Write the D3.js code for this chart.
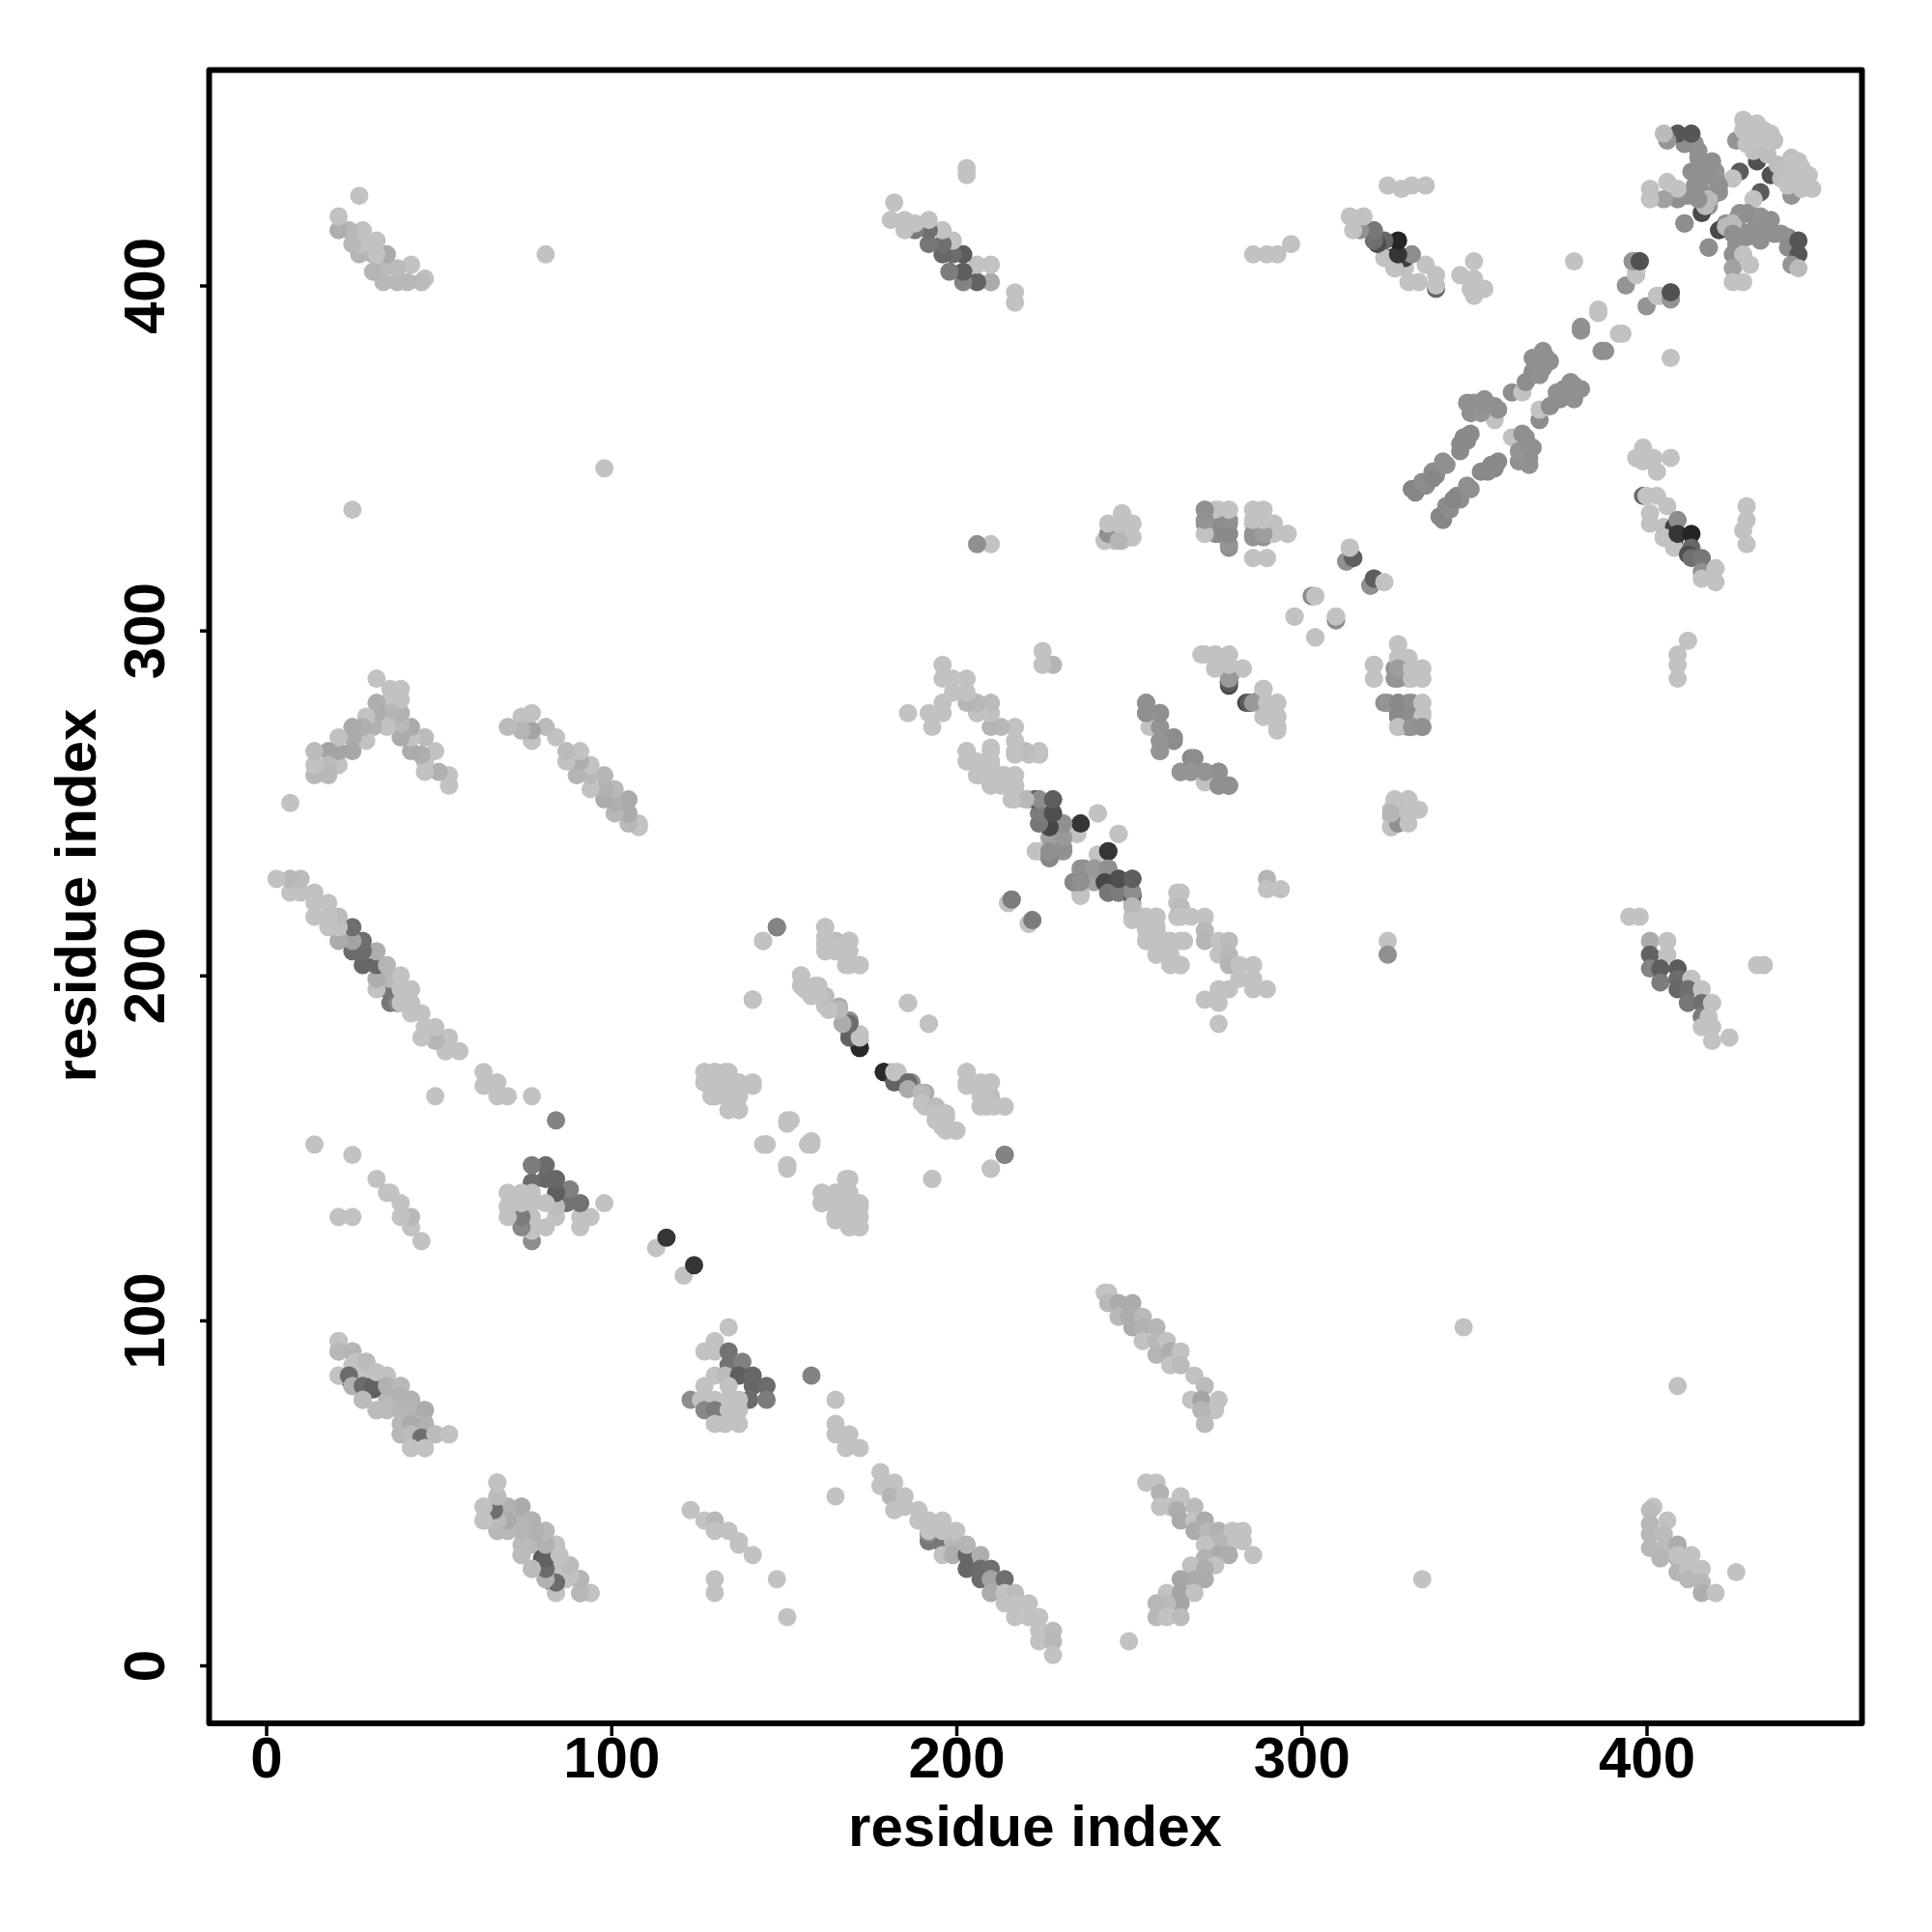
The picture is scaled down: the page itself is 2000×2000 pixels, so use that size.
<!DOCTYPE html>
<html><head><meta charset="utf-8"><style>html,body{margin:0;background:#fff}</style>
<script src="https://cdnjs.cloudflare.com/ajax/libs/d3/7.8.5/d3.min.js"></script></head><body>
<svg id="c" width="2000" height="2000"></svg>
<script>
// contacts: [residue i, residue j, score (omitted = 0)]; the map is symmetric
const tickValues=[0,100,200,300,400];
const axisTitle="residue index";
const blockEarly=[[67,53],[67,49],[63,46],[63,42],[66,46,52],[70,46,8],[74,46,14],[70,42,6],[77,42,12],[67,39],[74,39,6],[77,39,8],[81,39],[74,32,4],[77,35,6],[81,35,8],[84,35],[80,31,62],[80,29,55],[77,28,4],[84,32],[88,29,4],[81,25,8],[83,24,48],[84,28],[84,21],[87,25],[91,25,8],[91,21,6],[94,21],
[21,94],[21,91,6],[25,91,8],[26,88],[29,88,4],[21,84],[24,84,52],[25,81,10],[28,81,52],[31,81,58],[32,85],[35,84],[28,77,4],[32,74,4],[35,81,10],[39,81,6],[39,78,10],[42,77,10],[35,74,4],[39,74,8],[42,74,8],[46,74,14],[46,70,10],[39,70,6],[39,67,6],[42,70,14],[42,67,4],[45,66,50],[49,67,4],[53,67],[42,63],[46,63]];
const blockC=[[121,113],[124,116,85],[134,98],[130,94],[127,91],[130,91],[134,91,48],[134,87,48],[138,88,40],[130,84],[133,84,4],[137,84,60],[141,84,55],[141,81,55],[145,81,52],[140,77,52],[145,77,42],[127,81],[134,81],[123,77,32],[126,77],[130,77],[134,77],[137,77],[127,74,35],[130,74,42],[134,74],[137,74],[130,70],[133,70],[137,70],[158,84,38],[165,77],[165,70],[165,67],[169,67],[168,63],[172,63],[165,49]];
const blockLow=[[123,45],[127,42],[130,42,6],[130,39],[134,39],[137,36],[137,35],[141,32],[130,25],[130,21],[148,25],[151,14],[250,7],[335,25],[347,98],[409,81]];
const chainA=[[178,56],[178,52],[182,53],[181,49,8],[182,45],[185,49],[185,46],[189,45],[189,42],[192,36,45],[192,38,38],[192,42],[196,42],[196,35,45],[196,32],[199,36,6],[199,32,12],[203,32,55],[192,39],[196,39],[200,39],[203,35,8],[207,32,12],[203,28,55],[207,28,52],[210,28,50],[207,25,52],[210,25,18],[214,25,50],[210,21,14],[214,21],[217,21,4],[214,18],[217,18],[221,18],[217,14],[221,14],[224,14],[224,10],[228,10,4],[224,7],[228,7,6],[228,3]];
const chainD=[[243,108],[244,108],[244,105,6],[247,105,14],[251,105,14],[247,101,6],[250,101,12],[251,98,14],[254,101,6],[254,98,10],[254,94],[258,98,8],[258,94,6],[258,90,8],[261,94],[262,91,12],[262,87],[265,91],[265,87,4],[269,84],[272,81,4],[268,77],[271,77,18],[276,77],[275,74],[271,74,8],[272,70,4]];
const chevron=[[255,53],[258,53],[259,50,10],[259,46],[262,46],[265,49],[264,45,12],[265,42,14],[269,46,4],[269,42],[269,39,14],[272,42,14],[273,39,6],[276,39,10],[280,39],[283,39],[283,36],[280,36],[276,36,8],[272,35],[276,32,14],[279,32,12],[286,32],[272,31,10],[275,29],[268,29],[272,28,12],[269,25,14],[272,25,14],[265,25,16],[261,21],[265,21,18],[269,21],[265,18,18],[261,18,4],[258,18,6],[258,14,6],[261,14],[265,14,4]];
const block270=[[248,334],[251,331],[251,327],[248,330,4],[246,326],[243,326],[246,329,4],[248,326],[272,335,32],[272,331,32],[272,328],[276,331,32],[279,331,28],[276,328,32],[279,328,32],[279,324,30],[276,335],[279,335],[286,335],[289,335],[286,331],[289,331],[292,331],[286,327,28],[289,327,28],[292,328],[296,328],[286,321],[290,321],
[314,324],[313,320,30],[315,321,58],[320,313,30],[321,315,60],[324,314],[303,310,30],[304,310],[298,304],[310,303,32],[310,304],[304,298]];
const block280=[[272,293],[275,293],[279,293],[275,289],[279,289],[279,284,72],[279,285,35],[280,288,28],[283,289],[289,283],[285,279,62],[286,279,25],[290,279],[293,279],[293,275],[289,275],[293,271],
[328,296],[321,290],[321,286],[328,292],[331,292],[328,286,28],[328,289,22],[332,289],[335,289],[332,286],[335,286],[325,279,28],[328,279,34],[328,275,34],[332,279,30],[332,275,32],[335,279],[335,275],[328,272],[332,272,28],[335,272,30],
[327,251],[331,251],[333,248],[326,243],[328,244,30],[331,244],[326,247,8],[331,247]];
const chainB=[[255,279,34],[255,276,30],[259,276,30],[257,272],[259,272,30],[259,268,30],[259,265,30],[263,268,34],[265,259,28],[269,263,32],[268,259,28],[272,256],[272,259,28],[276,259,30],[276,255,30],[279,255,30]];
const blockMid=[[203,265],[210,266],[217,264],[221,264],[224,264],[206,261],[210,261],[206,258],[210,258,4],[210,255],[214,258],[217,258],[214,255],[217,254],[217,251],[221,251,10],
[236,230],[223,251,65],[224,251,28],[228,251,58],[224,247,32],[228,247,65],[224,244,35],[227,244,72],[231,244,32],[235,241],[236,244,85],[231,240,30],[227,240,20],[241,247],[247,241],[223,236],[227,234,40],[227,235,38],[231,236,28],[241,235],[244,236,85],[237,231,30],[240,231,25],[244,231,30],[236,224],[234,227,35],[236,227,30],[243,227,75],[244,224,45],[247,224,42],[251,223,70],[251,224,32],[247,228,70],[251,228,60],[251,220,6],[251,216],[255,217],[258,217],[255,213],[258,213],[255,210],[258,210],[262,210],[265,210],[258,206],[262,206],[262,203],[265,203],
[265,224],[265,220,4],[265,217],[268,217],[272,217],[272,213,6],[272,210,8],[276,210],[279,210,4],[276,206],[279,206,6],[279,203,8],[282,203],[286,203],[282,199],[286,199],[286,196],[290,196],[279,196],[276,196],[272,193],[276,192],[276,186],[290,228,8],[290,225],[294,225],[325,210],[325,206,30],[215,221],[216,222,45],[221,215],[222,216,42],[214,148,38],[210,144],[193,141]];
const block160=[[203,172],[203,168],[207,169],[210,169],[207,165],[210,165,4],[207,162],[211,162],[214,162],
[169,141],[161,137],[165,137],[169,137],[161,134],[165,133],[169,133],[172,133],[165,130],[169,130],[172,130],[169,127],[172,127],[165,129],
[127,172],[130,172],[134,172],[127,169],[130,169],[134,169],[137,168],[141,168],[130,165],[134,165],[137,165],[134,161],[137,161],
[144,151],[145,151],[151,158],[151,145],[157,151],[158,152],[144,210],[148,214,38],[141,193],
[162,214],[162,209],[165,208],[169,210],[169,203],[172,203],[155,200],[155,197],[159,197],[158,194],[162,194],[162,191],[166,191,14],[169,187,30],[169,186,35],[169,184,55],[172,179,95],[172,181],[172,183],[179,172,92],[182,169,58],[182,172],[186,169,52],[186,167,14],[190,166,6],[190,163],[194,162,4],[194,160],[197,160],[196,156],[200,155],[186,192],[192,186]];
const block400a=[[395,217],[398,217],[401,210,14],[406,210],[401,206,58],[401,202,38],[406,206],[404,202,60],[404,198,42],[409,202,62],[409,199,52],[409,196,55],[413,199],[412,196,50],[412,192,45],[416,196],[416,192,50],[416,188,42],[419,192],[418,188],[416,185],[419,185],[419,181],[424,182],[432,203],[434,203],
[402,46],[401,45,4],[401,41,6],[401,38,6],[401,34,6],[406,42],[405,38,4],[405,34,4],[404,31,8],[409,35,14],[409,31,10],[409,27,8],[409,32],[413,32],[412,28],[412,25,6],[416,28],[416,24,6],[416,21,12],[420,21],[426,27]];
const block400b=[[399,353],[397,350],[399,349],[402,350],[407,350],[403,346],[399,339,55],[400,339],[403,339],[401,334],[401,331],[406,336],[405,330],[405,327,32],[408,330,78],[409,332,32],[408,326,92],[405,327],[408,324],[409,328,85],[413,328,95],[413,324,55],[412,322,70],[413,321,50],[416,321,45],[416,317,30],[420,318],[416,315],[420,314],[429,336],[429,332],[428,329],[429,325],[412,297],[409,293],[409,290],[409,286],[379,407]];
const blockDiag=[[340,333,36],[341,332,36],[342,336,62],[342,336,32],[343,335,32],[345,339,32],[346,338,32],[348,342,30],[349,341,30],[355,348,34],[356,348,34],[356,347,34],[357,349,34],[354,346,34],[361,356],[364,357,30],[365,356,30],[366,350,30],[363,349,30],[363,352,28],[367,353,30],[366,348,30],[369,361,32],[369,364],[372,365,32],[374,367,32],[376,370,30],[379,371,30],[379,367,30],[375,367,32],[378,368,30],[381,370,30],[378,372,30],[374,369,30],[366,353,30],[344,338,36],[352,346,34],
[381,387,0],[388,381,30],[387,381,30],[392,386],[393,386],[396,407,32],[398,407,66],[400,394,28],[403,397],[404,397],[407,396,28],[407,398,68]];
const blockTop=[[433,427,62],[431,425],[427,421,30],[426,419,30],[427,420,30],[431,420,28],[433,420,28],[433,417,30],[427,416,30],[431,416,30],[437,415,30],[434,418,30],[436,419,30],[423,418,30],[421,416,72],[423,417,5],[425,418,5],[425,415,30],[426,412,30],[425,409,30],[428,409],[425,405,20],[430,406],[428,401],[425,401],[418,411,32],[411,418,32],[439,415,30],[441,414,30],[441,411,32],[444,413,65],[444,409,65],[442,406,28],[444,405,4],[436,432,68],[442,426,28],[441,434],[439,431,2],[445,431],[445,428],[441,429],[442,433],[444,436],[447,432],[447,429],[448,428],[442,437,2],[438,435,3],[445,434],[443,430],[442,435],[446,430],[429,421,30],[433,413,30],[429,414,30]];
const contacts=[].concat(blockEarly,blockC,blockLow,chainA,chainD,chevron,block270,block280,chainB,blockMid,block160,block400a,block400b,blockDiag,blockTop);

const x=d3.scaleLinear().domain([0,400]).range([275.5,1704.5]);
const y=d3.scaleLinear().domain([0,400]).range([1724,295.5]);
const shade=d3.scaleLinear().domain([0,100]).range(["#c2c2c2","#1c1c1c"]);
const font='"Liberation Sans",Arial,sans-serif';
const svg=d3.select("#c");
svg.append("rect").attr("width",2000).attr("height",2000).attr("fill","#fff");
const mirrored=contacts.flatMap(([i,j,s=0])=>[{a:i,b:j,s},{a:j,b:i,s}]);
svg.append("g").selectAll("circle").data(mirrored).join("circle")
 .attr("cx",d=>x(d.a)).attr("cy",d=>y(d.b)).attr("r",9.5).attr("fill",d=>shade(d.s));
svg.append("rect").attr("x",216.5).attr("y",72.5).attr("width",1711).attr("height",1711.5)
 .attr("fill","none").attr("stroke","#000").attr("stroke-width",6).attr("stroke-linejoin","round");
const bottomAxis=d3.axisBottom(x).tickValues(tickValues).tickSize(13).tickFormat(d3.format("d"));
const gx=svg.append("g").attr("transform","translate(0,1784)").call(bottomAxis);
gx.select(".domain").remove();
gx.selectAll("line").attr("stroke","#000").attr("stroke-width",3.5);
gx.selectAll("text").attr("y",56).attr("dy",0).attr("fill","#000").style("font",`bold 60px ${font}`);
const leftAxis=d3.axisLeft(y).tickValues(tickValues).tickSize(0).tickFormat(d3.format("d"));
const gy=svg.append("g").attr("transform","translate(216,0)").call(leftAxis);
gy.select(".domain").remove();
gy.selectAll("line").attr("x2",-9).attr("stroke","#000").attr("stroke-width",3.5);
gy.selectAll("text").attr("x",0).attr("y",-46).attr("dy",0).attr("transform","rotate(-90)")
  .attr("text-anchor","middle").attr("fill","#000").style("font",`bold 60px ${font}`);
svg.append("text").attr("x",1071.5).attr("y",1911).attr("text-anchor","middle")
  .style("font",`bold 60px ${font}`).text(axisTitle);
svg.append("text").attr("transform","translate(99,927) rotate(-90)").attr("text-anchor","middle")
  .style("font",`bold 60px ${font}`).text(axisTitle);
</script></body></html>
